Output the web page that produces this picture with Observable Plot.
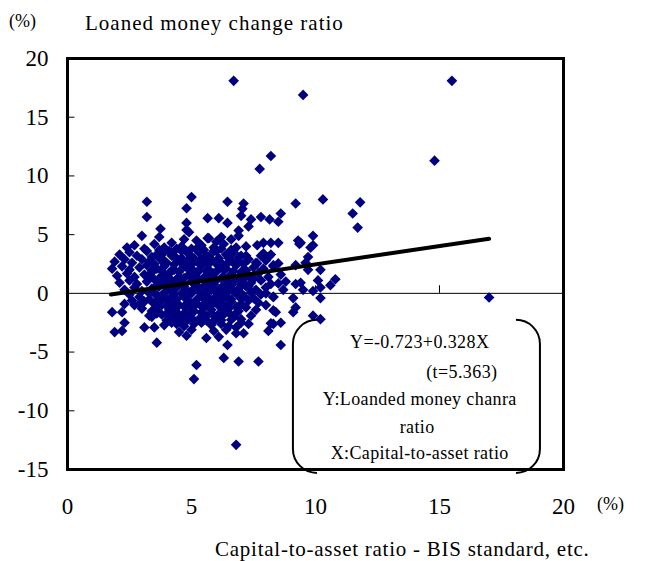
<!DOCTYPE html>
<html><head><meta charset="utf-8">
<script src="https://cdn.jsdelivr.net/npm/d3@7"></script>
<script src="https://cdn.jsdelivr.net/npm/@observablehq/plot@0.6"></script>
<style>body{margin:0;background:#fff}</style>
</head><body><div id="chart"></div>
<script>
const xTicks = [0, 5, 10, 15, 20];
const yTicks = [-15, -10, -5, 0, 5, 10, 15, 20];
const innerYTicks = [-10, -5, 5, 10, 15];
const innerXTicks = [5, 10, 15];

// [capital-to-asset ratio %, loaned money change ratio %]
const upperBanks = [
  [6.7,18.1],[9.5,16.9],[15.5,18.1],[14.8,11.3],[8.2,11.7],[7.75,10.6],
  [3.2,7.8],[5.0,8.2],[4.8,7.25],[6.45,7.8],[7.1,7.65],[7.05,7.2],[9.2,7.65],
  [3.2,6.5],[4.8,6.0],[5.65,6.4],[6.1,6.4],[6.45,6.0],[7.0,6.6],[7.4,6.3],[7.8,6.5],
  [8.15,6.3],[8.6,6.8],[8.5,6.1],[3.75,5.5],[3.7,4.8],[3.0,4.9],[4.8,5.4],[4.9,5.2],
  [5.65,4.7],[6.2,4.8],[6.9,5.35],[7.3,5.7],[7.65,4.1],[7.9,4.3],[8.2,4.3],[8.5,4.3],
  [9.3,4.5],[9.35,4.2],[7.8,3.2],[8.1,3.1],[7.65,2.55],[8.3,2.4],[8.5,2.55],[9.2,2.4]
];
const rightBanks = [
  [10.3,8.0],[11.8,7.75],[11.5,6.8],[11.7,5.6],[9.9,4.9],[9.9,4.1],[9.8,3.9],[9.4,4.3],
  [9.7,3.1],[9.6,2.6],[9.7,2.0],[10.2,2.0],[10.8,1.2],[10.6,0.7],[10.1,1.1],[10.2,0.5],
  [9.9,0.2],[9.5,0.3],[10.2,-0.4],[9.4,0.9],[9.9,-1.9],[10.2,-2.2],[9.2,-1.2],[8.4,-1.6],
  [9.2,0.8],[8.5,0.85],[9.1,-0.4],[8.3,-0.3],[8.0,0.0],[8.3,-1.45],[8.6,-2.5],[8.2,-2.55],
  [9.1,-1.6],[17.0,-0.35]
];
const lowerBanks = [
  [8.6,-4.4],[5.2,-6.1],[5.1,-7.3],[6.3,-5.5],[6.9,-5.8],[7.7,-5.8],[6.45,-4.4],[6.8,-12.9],
  [3.6,-4.2],[3.5,-2.9],[4.8,-3.6],[5.6,-3.8],[6.1,-3.7],[8.1,-3.2],[6.8,-3.4],[5.1,-2.6],
  [4.2,-2.5],[4.6,-2.3],[3.1,-2.9],[1.8,-1.6],[2.2,-1.6],[2.3,-2.5],[1.9,-3.3],[2.2,-3.2],
  [2.7,-1.0],[2.9,-0.9],[3.3,-1.9],[2.3,-0.9],[2.6,-0.6],[8.3,-2.6],[6.8,-2.9],[7.3,-2.6],[5.6,-2.3]
];
const coreBanks = [
  [4.7,4.6],[5.2,4.5],[5.7,4.7],[6.0,4.4],[6.6,4.6],[6.9,4.9],
  [2.4,3.9],[2.7,4.1],[3.1,3.8],[3.5,4.2],[3.9,3.9],[4.2,4.3],[4.6,4.0],[5.0,3.8],[5.4,4.1],[5.9,3.9],[6.3,4.2],[6.8,3.9],[7.2,4.0],
  [3.7,3.7],[4.1,3.6],[4.4,3.8],[4.8,3.6],[5.2,3.8],[5.5,3.7],[5.9,3.6],[6.2,3.8],[6.6,3.7],
  [2.1,3.3],[2.5,3.5],[2.8,3.2],[3.2,3.6],[3.6,3.3],[3.9,3.5],[4.3,3.2],[4.6,3.6],[4.9,3.3],[5.3,3.5],[5.6,3.2],[6.0,3.6],[6.4,3.3],[6.7,3.5],[7.0,3.2],[7.9,3.4],[8.2,3.3],
  [3.4,3.1],[3.8,3.0],[4.2,3.2],[4.6,3.0],[5.0,3.1],[5.4,2.95],[5.7,3.15],[6.1,3.0],[6.5,3.1],[6.9,3.05],[7.2,3.2],
  [1.9,2.7],[2.3,2.9],[2.6,2.6],[3.0,2.9],[3.3,2.7],[3.7,3.0],[4.0,2.6],[4.4,2.9],[4.8,2.7],[5.1,3.0],[5.5,2.7],[5.8,2.9],[6.2,2.6],[6.5,3.0],[6.9,2.7],[7.3,2.9],[7.6,2.6],[8.0,2.8],
  [3.5,2.5],[3.9,2.55],[4.3,2.45],[4.6,2.6],[5.0,2.45],[5.3,2.55],[5.7,2.5],[6.0,2.55],[6.4,2.45],[6.7,2.6],[7.1,2.5],
  [1.8,2.1],[2.2,2.3],[2.5,2.0],[2.9,2.2],[3.2,2.4],[3.6,2.1],[3.9,2.3],[4.3,2.0],[4.7,2.3],[5.0,2.1],[5.4,2.4],[5.7,2.0],[6.1,2.3],[6.4,2.1],[6.8,2.4],[7.1,2.0],[7.5,2.2],[7.9,2.1],[8.3,2.3],
  [3.4,1.95],[3.8,1.9],[4.2,1.95],[4.5,1.85],[4.9,2.0],[5.3,1.9],[5.6,1.95],[6.0,1.85],[6.3,2.0],[6.7,1.9],[7.2,1.95],
  [2.0,1.5],[2.4,1.7],[2.7,1.4],[3.1,1.6],[3.4,1.8],[3.8,1.5],[4.1,1.7],[4.5,1.4],[4.9,1.6],[5.2,1.8],[5.6,1.5],[5.9,1.7],[6.3,1.4],[6.6,1.6],[7.0,1.8],[7.3,1.5],[7.7,1.7],[8.1,1.4],[8.6,1.6],
  [3.3,1.3],[3.7,1.25],[4.0,1.35],[4.4,1.2],[4.7,1.3],[5.1,1.25],[5.5,1.35],[5.8,1.2],[6.2,1.3],[6.5,1.25],[6.9,1.35],[7.5,1.25],
  [2.1,0.9],[2.5,1.1],[2.8,0.8],[3.2,1.0],[3.5,1.2],[3.9,0.9],[4.2,1.1],[4.6,0.8],[5.0,1.0],[5.3,1.2],[5.7,0.9],[6.0,1.1],[6.4,0.8],[6.7,1.0],[7.1,1.2],[7.4,0.9],[7.8,1.1],[8.2,0.8],[8.8,1.0],
  [3.6,0.7],[4.0,0.65],[4.3,0.75],[4.7,0.6],[5.2,0.7],[5.6,0.65],[5.9,0.75],[6.3,0.6],[6.6,0.7],[7.0,0.75],[7.3,0.6],
  [2.3,0.3],[2.7,0.5],[3.0,0.2],[3.4,0.4],[3.7,0.6],[4.1,0.3],[4.4,0.5],[4.8,0.2],[5.1,0.4],[5.5,0.6],[5.8,0.3],[6.2,0.5],[6.5,0.2],[6.9,0.4],[7.2,0.6],[7.6,0.3],[8.0,0.5],[8.7,0.3],
  [3.5,0.1],[3.9,0.05],[4.2,0.15],[4.6,0.0],[4.9,0.1],[5.3,0.15],[5.6,0.0],[6.0,0.1],[6.3,0.05],[6.7,0.15],[7.0,0.0],[7.4,0.1],
  [2.5,-0.1],[2.9,-0.3],[3.3,0.0],[3.6,-0.2],[4.0,-0.4],[4.3,-0.1],[4.7,-0.3],[5.0,0.0],[5.4,-0.2],[5.7,-0.4],[6.1,-0.1],[6.4,-0.3],[6.8,0.0],[7.1,-0.2],[7.5,-0.4],[7.8,-0.1],[8.3,-0.3],
  [3.3,-0.5],[3.7,-0.45],[4.1,-0.55],[4.4,-0.5],[4.8,-0.45],[5.2,-0.55],[5.5,-0.5],[5.9,-0.45],[6.2,-0.55],[6.6,-0.5],[7.0,-0.45],
  [3.1,-0.7],[3.5,-0.9],[3.8,-0.6],[4.2,-0.8],[4.5,-1.0],[4.9,-0.7],[5.2,-0.9],[5.6,-0.6],[5.9,-0.8],[6.3,-1.0],[6.6,-0.7],[7.0,-0.9],[7.3,-0.6],[7.7,-0.8],[8.0,-1.0],
  [3.6,-1.1],[4.0,-1.05],[4.3,-1.15],[4.7,-1.1],[5.0,-1.05],[5.4,-1.1],[5.7,-1.15],[6.1,-1.05],[6.4,-1.1],[6.8,-1.15],
  [3.0,-1.3],[3.4,-1.5],[3.7,-1.2],[4.1,-1.4],[4.4,-1.6],[4.8,-1.3],[5.1,-1.5],[5.5,-1.2],[5.8,-1.4],[6.2,-1.6],[6.5,-1.3],[6.9,-1.5],[7.2,-1.2],[7.6,-1.4],
  [3.6,-1.7],[4.0,-1.75],[4.3,-1.65],[4.7,-1.7],[5.0,-1.75],[5.4,-1.65],[5.8,-1.7],[6.1,-1.75],[6.5,-1.65],[6.8,-1.7],
  [3.4,-2.0],[3.8,-1.8],[4.2,-2.1],[4.5,-1.9],[4.9,-2.0],[5.3,-2.2],[5.6,-1.9],[6.0,-2.1],[6.3,-1.8],[6.7,-2.0],[7.0,-2.2],[7.4,-1.9],
  [4.0,-2.3],[4.4,-2.25],[4.8,-2.35],[5.1,-2.3],[5.5,-2.25],[5.9,-2.35],[6.2,-2.3],[6.6,-2.25],
  [3.9,-2.7],[4.4,-2.6],[4.7,-2.8],[5.4,-2.5],[5.8,-2.7],[6.2,-2.6],[6.5,-2.8],[7.0,-2.5],
  [4.5,-3.3],[5.0,-3.1],[5.9,-3.2],[6.4,-3.1],[7.1,-3.4]
];
const fitLine = [[1.75, -0.1], [17, 4.65]];

const noteLines = ["Y=-0.723+0.328X", "(t=5.363)", "Y:Loanded money chanra", "ratio", "X:Capital-to-asset ratio"];
const noteX = [14.2, 15.9, 14.2, 14.1, 14.2];
const noteY = [-4.17, -6.73, -9.03, -11.4, -13.6];
const noteBox = {x1: 9.11, x2: 19.07, y1: -2.3, y2: -15.33};

const yTitle = "Loaned money change ratio";
const xTitle = "Capital-to-asset ratio - BIS standard, etc.";
const unitLabel = "(%)";

const allBanks = [...coreBanks, ...upperBanks, ...rightBanks, ...lowerBanks];
const notes = noteLines.map((t, i) => ({t, x: noteX[i], y: noteY[i]}));

const chart = Plot.plot({
  width: 645, height: 561,
  marginLeft: 67, marginRight: 82, marginTop: 58, marginBottom: 92,
  style: {fontFamily: "'Liberation Serif', 'Times New Roman', serif", fontSize: "23px", background: "#fff", color: "#000", overflow: "visible"},
  x: {domain: [0, 20], ticks: xTicks, tickSize: 0, tickPadding: 28, label: null, tickFormat: d => String(d)},
  y: {domain: [-15, 20], ticks: yTicks, tickSize: 0, tickPadding: 19, label: null, tickFormat: d => String(d)},
  marks: [
    Plot.ruleY([0], {stroke: "#000", strokeWidth: 1}),
    Plot.ruleY(innerYTicks, {y: d => d, x1: 0, x2: 0.3, stroke: "#000", strokeWidth: 1}),
    Plot.ruleX(innerXTicks, {x: d => d, y1: 0, y2: 0.65, stroke: "#000", strokeWidth: 1}),
    Plot.dot(allBanks, {x: d => d[0], y: d => d[1], symbol: "diamond2", r: 4.8, fill: "#000080", stroke: "none"}),
    Plot.line(fitLine, {x: d => d[0], y: d => d[1], stroke: "#000", strokeWidth: 4}),
    Plot.text(notes, {x: "x", y: "y", text: "t", fontSize: 18, fill: "#000", textAnchor: "middle"}),
    Plot.frame({stroke: "#000", strokeWidth: 3})
  ]
});

const svg = d3.select(chart);
svg.selectAll('g[aria-label="text"] text').attr("letter-spacing", "0.4px");
const sx = chart.scale("x").apply, sy = chart.scale("y").apply;
const L = sx(noteBox.x1), R = sx(noteBox.x2), T = sy(noteBox.y1), B = sy(noteBox.y2), r = 24;
svg.append("path")
  .attr("d", `M${L + r},${T} A${r},${r} 0 0 0 ${L},${T + r} L${L},${B - r} A${r},${r} 0 0 0 ${L + r},${B}`)
  .attr("fill", "none").attr("stroke", "#000").attr("stroke-width", 2);
svg.append("path")
  .attr("d", `M${R - r},${T} A${r},${r} 0 0 1 ${R},${T + r} L${R},${B - r} A${r},${r} 0 0 1 ${R - r},${B}`)
  .attr("fill", "none").attr("stroke", "#000").attr("stroke-width", 2);

const addText = (t, x, y, size, ls) => svg.append("text").text(t)
  .attr("x", x).attr("y", y).attr("font-size", size).attr("letter-spacing", ls)
  .attr("text-anchor", "start")
  .attr("fill", "#000").attr("font-family", "'Liberation Serif', serif");
addText(unitLabel, 9, 27, 18, "0px");
addText(yTitle, 85, 30, 21, "1px");
addText(unitLabel, 597, 510, 18, "0px");
addText(xTitle, 215, 556, 21, "0.75px");

document.getElementById("chart").appendChild(chart);
</script>
</body></html>
